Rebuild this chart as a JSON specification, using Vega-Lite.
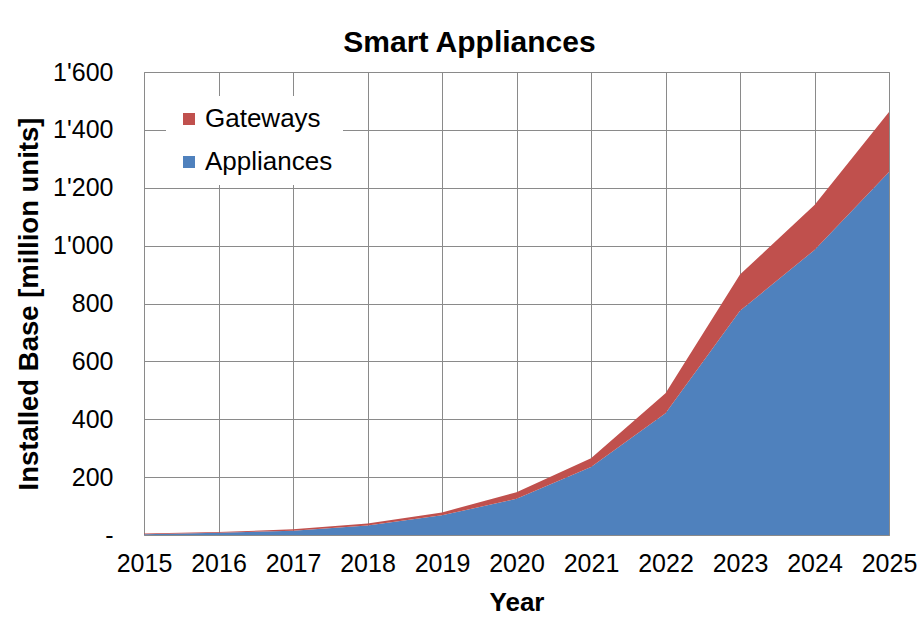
{
  "$schema": "https://vega.github.io/schema/vega-lite/v6.json",
  "width": 745,
  "height": 463,
  "autosize": {"type": "none"},
  "padding": {"left": 144, "top": 72, "right": 28, "bottom": 95},
  "background": "white",
  "title": {
    "text": "Smart Appliances",
    "font": "Liberation Sans",
    "fontSize": 30,
    "fontWeight": "bold",
    "color": "#000000",
    "anchor": "middle",
    "dx": -47,
    "offset": 2
  },
  "data": {
    "values": [
      {"year": 2015, "series": "Appliances", "rank": 1, "value": 3},
      {"year": 2016, "series": "Appliances", "rank": 1, "value": 8},
      {"year": 2017, "series": "Appliances", "rank": 1, "value": 15},
      {"year": 2018, "series": "Appliances", "rank": 1, "value": 33},
      {"year": 2019, "series": "Appliances", "rank": 1, "value": 68},
      {"year": 2020, "series": "Appliances", "rank": 1, "value": 125},
      {"year": 2021, "series": "Appliances", "rank": 1, "value": 235},
      {"year": 2022, "series": "Appliances", "rank": 1, "value": 421},
      {"year": 2023, "series": "Appliances", "rank": 1, "value": 775},
      {"year": 2024, "series": "Appliances", "rank": 1, "value": 985},
      {"year": 2025, "series": "Appliances", "rank": 1, "value": 1254},
      {"year": 2015, "series": "Gateways", "rank": 2, "value": 2},
      {"year": 2016, "series": "Gateways", "rank": 2, "value": 2},
      {"year": 2017, "series": "Gateways", "rank": 2, "value": 5},
      {"year": 2018, "series": "Gateways", "rank": 2, "value": 7},
      {"year": 2019, "series": "Gateways", "rank": 2, "value": 10},
      {"year": 2020, "series": "Gateways", "rank": 2, "value": 23},
      {"year": 2021, "series": "Gateways", "rank": 2, "value": 30},
      {"year": 2022, "series": "Gateways", "rank": 2, "value": 69},
      {"year": 2023, "series": "Gateways", "rank": 2, "value": 125},
      {"year": 2024, "series": "Gateways", "rank": 2, "value": 155},
      {"year": 2025, "series": "Gateways", "rank": 2, "value": 208}
    ]
  },
  "mark": {"type": "area", "interpolate": "linear"},
  "encoding": {
    "x": {
      "field": "year",
      "type": "quantitative",
      "scale": {"domain": [2015, 2025], "nice": false, "zero": false},
      "axis": {
        "title": "Year",
        "values": [2015, 2016, 2017, 2018, 2019, 2020, 2021, 2022, 2023, 2024, 2025],
        "format": "d",
        "grid": true,
        "gridColor": "#8a8a8a",
        "gridOpacity": 1,
        "gridWidth": 1,
        "domain": false,
        "ticks": false,
        "labelFont": "Liberation Sans",
        "labelFontSize": 25,
        "labelColor": "#000000",
        "labelPadding": 16,
        "labelFlush": false,
        "labelOverlap": false,
        "titleFont": "Liberation Sans",
        "titleFontSize": 26,
        "titleFontWeight": "bold",
        "titleColor": "#000000",
        "titlePadding": 13
      }
    },
    "y": {
      "field": "value",
      "type": "quantitative",
      "stack": "zero",
      "scale": {"domain": [0, 1600], "nice": false},
      "axis": {
        "title": "Installed Base [million units]",
        "values": [0, 200, 400, 600, 800, 1000, 1200, 1400, 1600],
        "labelExpr": "datum.value == 0 ? '-' : replace(format(datum.value, ','), ',', \"'\")",
        "grid": true,
        "gridColor": "#8a8a8a",
        "gridOpacity": 1,
        "gridWidth": 1,
        "domain": false,
        "ticks": false,
        "labelFont": "Liberation Sans",
        "labelFontSize": 25,
        "labelColor": "#000000",
        "labelPadding": 31,
        "titleFont": "Liberation Sans",
        "titleFontSize": 27.5,
        "titleFontWeight": "bold",
        "titleColor": "#000000",
        "titlePadding": 9
      }
    },
    "color": {
      "field": "series",
      "type": "nominal",
      "scale": {"domain": ["Gateways", "Appliances"], "range": ["#C0504D", "#4F81BD"]},
      "legend": {
        "title": null,
        "orient": "none",
        "legendX": 22,
        "legendY": 24,
        "fillColor": "white",
        "padding": 10,
        "symbolType": "square",
        "symbolSize": 144,
        "symbolStrokeWidth": 0,
        "labelFont": "Liberation Sans",
        "labelFontSize": 26,
        "labelColor": "#000000",
        "labelOffset": 3,
        "rowPadding": 17
      }
    },
    "order": {"field": "rank", "type": "quantitative"}
  },
  "config": {
    "view": {"stroke": "#8a8a8a", "strokeWidth": 1}
  }
}
